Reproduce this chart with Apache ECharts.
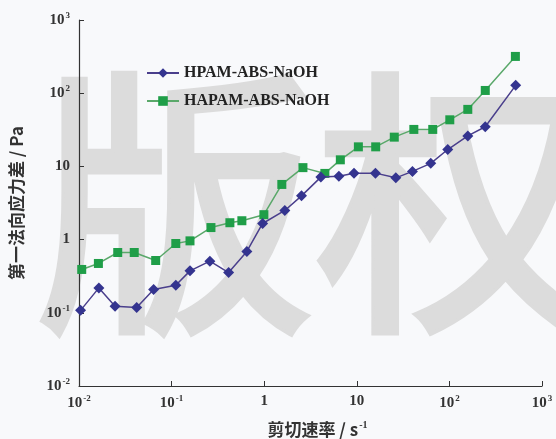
<!DOCTYPE html>
<html>
<head>
<meta charset="utf-8">
<script src="https://cdn.jsdelivr.net/npm/echarts@6/dist/echarts.min.js"></script>
<style>
  html, body { margin: 0; padding: 0; background: #f8f9fb; }
  #chart { width: 556px; height: 439px; }
</style>
</head>
<body>
<div id="chart"></div>
<script>
// Shear rate (s^-1) and first normal stress difference (Pa), log-log
const hpamRate = [0.0104, 0.0164, 0.0245, 0.0420, 0.0640, 0.111, 0.158, 0.259, 0.413, 0.650, 0.961, 1.67, 2.53, 4.09, 6.40, 9.33, 15.9, 26.4, 39.9, 62.9, 96.0, 158, 244, 520];
const hpamN1   = [0.108, 0.219, 0.123, 0.118, 0.208, 0.238, 0.374, 0.507, 0.355, 0.688, 1.66, 2.50, 3.96, 7.14, 7.32, 8.04, 8.09, 6.98, 8.54, 11.0, 17.0, 26.1, 34.8, 128];

const hapamRate = [0.0107, 0.0162, 0.0262, 0.0395, 0.0673, 0.111, 0.158, 0.266, 0.426, 0.574, 0.992, 1.55, 2.62, 4.52, 6.64, 10.4, 16.0, 25.4, 41.3, 66.1, 101, 158, 244, 516];
const hapamN1   = [0.391, 0.472, 0.667, 0.667, 0.518, 0.885, 0.961, 1.46, 1.70, 1.81, 2.19, 5.67, 9.62, 8.02, 12.3, 18.5, 18.5, 25.1, 32.0, 32.0, 43.3, 60.1, 109, 318];

const seriesNames = ['HPAM-ABS-NaOH', 'HAPAM-ABS-NaOH'];
const axisMin = 0.01;
const axisMax = 1000;

const pairs = (xs, ys) => xs.map((x, i) => [x, ys[i]]);

const serif = '"Liberation Serif", "Times New Roman", serif';
const cjk = '"Noto Sans CJK SC", sans-serif';

// decade labels: 1, 10, otherwise 10 with a raised exponent
function decadeLabel(v) {
  const e = Math.round(Math.log10(v));
  if (e === 0) return '1';
  if (e === 1) return '10';
  return '10{sup|' + (e < 0 ? '-' : '') + Math.abs(e) + '}';
}
const labelRich = {
  sup: { fontFamily: serif, fontWeight: 'bold', fontSize: 9, color: '#333', padding: [0, 0, 9, 1] }
};

const chart = echarts.init(document.getElementById('chart'), null, { renderer: 'canvas' });

chart.setOption({
  backgroundColor: '#f8f9fb',
  animation: false,
  graphic: [{
    type: 'text',
    z: -10,
    silent: true,
    left: 32,
    top: 60,
    style: {
      text: '版权',
      font: '280px "Noto Sans CJK SC", sans-serif',
      fill: '#dcdcdc',
      stroke: '#dcdcdc',
      lineWidth: 7
    }
  }],
  grid: { left: 79, right: 14, top: 20, bottom: 53, containLabel: false, outerBoundsMode: 'none' },
  legend: {
    orient: 'vertical',
    left: 141,
    top: 60,
    itemWidth: 32,
    itemHeight: 12,
    itemGap: 12,
    textStyle: { fontFamily: serif, fontWeight: 'bold', fontSize: 16, color: '#222' },
    data: seriesNames
  },
  xAxis: {
    type: 'log',
    logBase: 10,
    min: axisMin,
    max: axisMax,
    name: '剪切速率 / s{sup|-1}',
    nameLocation: 'middle',
    nameGap: 34,
    nameTextStyle: {
      fontFamily: cjk, fontSize: 17, fontWeight: 'bold', color: '#333',
      padding: [0, 0, 0, 14],
      rich: { sup: { fontFamily: serif, fontWeight: 'bold', fontSize: 10, color: '#333', padding: [0, 0, 10, 1] } }
    },
    axisLine: { lineStyle: { color: '#333', width: 1.2 } },
    axisTick: { inside: true, length: 5, lineStyle: { color: '#333' } },
    splitLine: { show: false },
    axisLabel: {
      margin: 8,
      formatter: decadeLabel,
      fontFamily: serif, fontWeight: 'bold', fontSize: 15, color: '#333',
      rich: labelRich
    }
  },
  yAxis: {
    type: 'log',
    logBase: 10,
    min: axisMin,
    max: axisMax,
    name: '第一法向应力差 / Pa',
    nameLocation: 'middle',
    nameGap: 54,
    nameTextStyle: { fontFamily: cjk, fontSize: 17, fontWeight: 'bold', color: '#333' },
    axisLine: { lineStyle: { color: '#333', width: 1.2 } },
    axisTick: { inside: true, length: 5, lineStyle: { color: '#333' } },
    splitLine: { show: false },
    axisLabel: {
      margin: 9,
      formatter: decadeLabel,
      fontFamily: serif, fontWeight: 'bold', fontSize: 15, color: '#333',
      rich: labelRich
    }
  },
  series: [
    {
      name: seriesNames[0],
      type: 'line',
      z: 4,
      data: pairs(hpamRate, hpamN1),
      symbol: 'diamond',
      symbolSize: 11,
      itemStyle: { color: '#34348f' },
      lineStyle: { color: '#4a3f8c', width: 1.5 }
    },
    {
      name: seriesNames[1],
      type: 'line',
      z: 3,
      data: pairs(hapamRate, hapamN1),
      symbol: 'rect',
      symbolSize: 9,
      itemStyle: { color: '#1f9e48' },
      lineStyle: { color: '#5aa86a', width: 1.5 }
    }
  ]
});
</script>
</body>
</html>
